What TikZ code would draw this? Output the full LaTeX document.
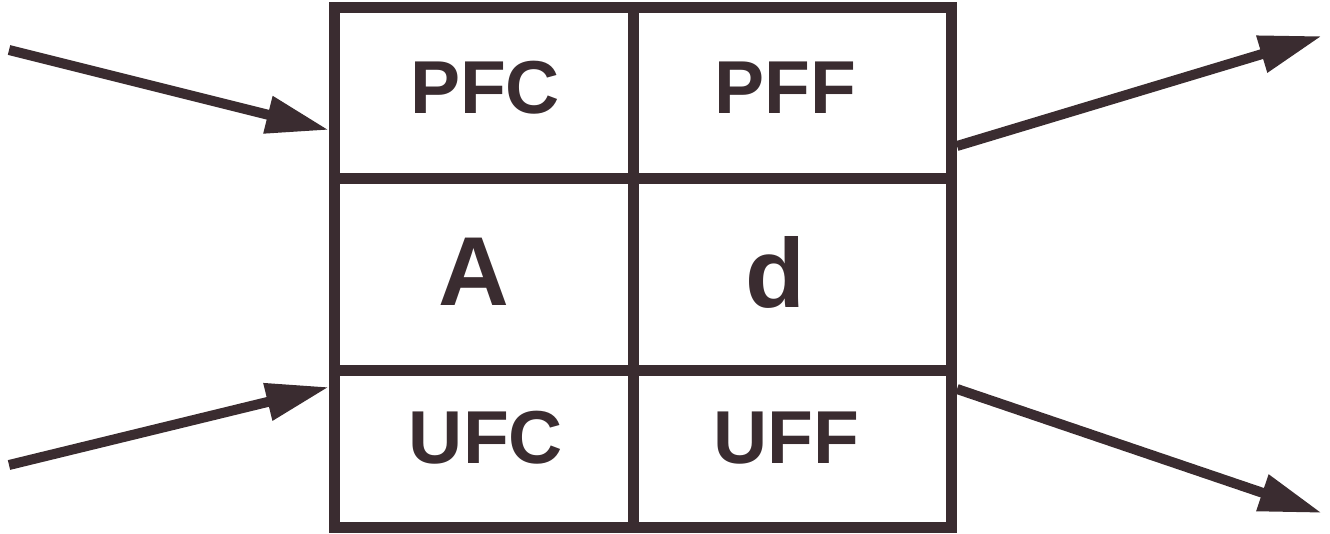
\documentclass[tikz,border=0pt]{standalone}
\usepackage{fontspec}
\setmainfont{Liberation Sans}
\usetikzlibrary{arrows.meta}
\definecolor{ink}{RGB}{58,44,48}
\begin{document}
\begin{tikzpicture}[x=1pt,y=-1pt,
  gridline/.style={draw=ink,line width=11pt,line cap=rect},
  flow/.style={draw=ink,line width=10pt,-{Triangle[length=63pt,width=36pt]}},
  small/.style={inner sep=0pt,text=ink,font=\fontsize{75}{75}\selectfont\bfseries},
  big/.style={inner sep=0pt,text=ink,font=\fontsize{98}{98}\selectfont\bfseries}]
\useasboundingbox (0,0) rectangle (1330,533);
% grid
\draw[gridline] (334,7.5) rectangle (951,527.5);
\draw[gridline] (334,178) -- (951,178);
\draw[gridline] (334,370) -- (951,370);
\draw[gridline] (633,7.5) -- (633,527.5);
% labels
\node[small] (pfc) at (485,88) {PFC};
\node[small] (pff) at (785,88) {PFF};
\node[big] (a) at (474,272) {A};
\node[big] (d) at (775,272) {d};
\node[small] (ufc) at (486,438) {UFC};
\node[small] (uff) at (786,438) {UFF};
% arrow endpoints
\coordinate (in1s) at (9,50);
\coordinate (in1e) at (329,130);
\coordinate (in2s) at (9,465);
\coordinate (in2e) at (329,387);
\coordinate (out1s) at (957,146);
\coordinate (out1e) at (1322,36);
\coordinate (out2s) at (957,389);
\coordinate (out2e) at (1322,513);
\draw[flow] (in1s) -- (in1e);
\draw[flow] (in2s) -- (in2e);
\draw[flow] (out1s) -- (out1e);
\draw[flow] (out2s) -- (out2e);
\end{tikzpicture}
\end{document}
